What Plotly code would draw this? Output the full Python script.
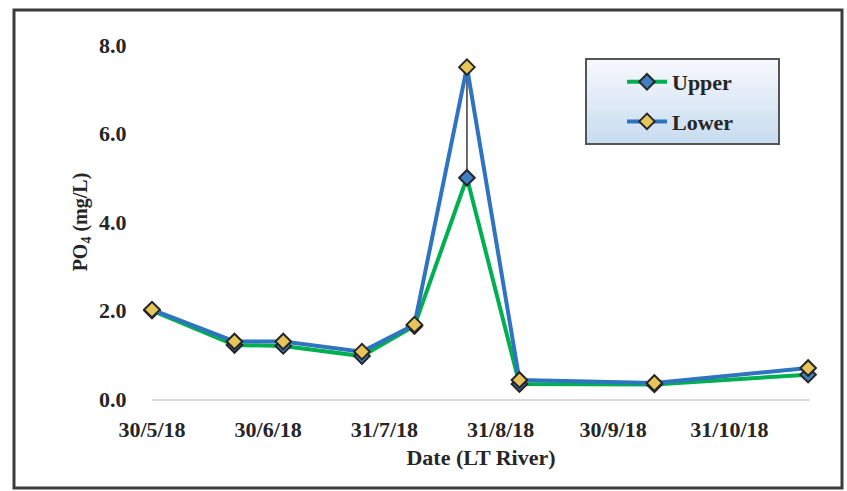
import plotly.graph_objects as go

# Sampling dates and PO4 concentrations (mg/L) for the LT River
dates = ["2018-05-30", "2018-06-21", "2018-07-04", "2018-07-25", "2018-08-08",
         "2018-08-22", "2018-09-05", "2018-10-11", "2018-11-21"]
upper = [2.00, 1.22, 1.20, 0.97, 1.65, 5.00, 0.34, 0.33, 0.55]
lower = [2.02, 1.30, 1.30, 1.07, 1.68, 7.50, 0.43, 0.36, 0.70]

tick_dates = ["2018-05-30", "2018-06-30", "2018-07-31", "2018-08-31", "2018-09-30", "2018-10-31"]
tick_text = ["30/5/18", "30/6/18", "31/7/18", "31/8/18", "30/9/18", "31/10/18"]
y_ticks = [0, 2, 4, 6, 8]
y_tick_text = ["0.0", "2.0", "4.0", "6.0", "8.0"]

W, H = 847, 491
L, R, T, B = 152, 37, 45, 92
PW, PH = W - L - R, H - T - B

def px(x):
    return (x - L) / PW

def py(y):
    return (H - B - y) / PH

FONT = "Liberation Serif"

fig = go.Figure()

# high-low connectors between the two stations
hx, hy = [], []
for d, u, l in zip(dates, upper, lower):
    hx += [d, d, None]
    hy += [u, l, None]
fig.add_trace(go.Scatter(x=hx, y=hy, mode="lines", line=dict(color="#3a3a3a", width=1.5),
                         showlegend=False, hoverinfo="skip", cliponaxis=False))

fig.add_trace(go.Scatter(
    x=dates, y=upper, name="Upper", mode="lines+markers", legendgroup="u",
    line=dict(color="#00b050", width=4),
    marker=dict(symbol="diamond", size=12, color="#3f7fc4", line=dict(color="#262626", width=2)),
    cliponaxis=False))
fig.add_trace(go.Scatter(
    x=dates, y=lower, name="Lower", mode="lines+markers", legendgroup="l",
    line=dict(color="#2e74c0", width=4),
    marker=dict(symbol="diamond", size=12, color="#e8c55a", line=dict(color="#262626", width=2)),
    cliponaxis=False))

shapes = []
# legend panel with a soft vertical gradient
lx0, lx1, ly0, ly1 = 586, 779, 59, 144
n = 30
for i in range(n):
    t = i / (n - 1)
    r = int(247 + (200 - 247) * t)
    g = int(250 + (220 - 250) * t)
    b = int(253 + (240 - 253) * t)
    ya = ly0 + (ly1 - ly0) * i / n
    yb = ly0 + (ly1 - ly0) * (i + 1) / n
    shapes.append(dict(type="rect", xref="paper", yref="paper", layer="above",
                       x0=px(lx0), x1=px(lx1), y0=py(ya), y1=py(yb + 0.6),
                       fillcolor=f"rgb({r},{g},{b})", line=dict(width=0)))
shapes.append(dict(type="rect", xref="paper", yref="paper", layer="above",
                   x0=px(lx0), x1=px(lx1), y0=py(ly0), y1=py(ly1),
                   line=dict(color="#555555", width=2)))
# outer frame
shapes.append(dict(type="rect", xref="paper", yref="paper", layer="above",
                   x0=px(14), x1=px(842), y0=py(10), y1=py(488),
                   line=dict(color="#3c3c3c", width=3)))

fig.update_layout(
    width=W, height=H,
    margin=dict(l=L, r=R, t=T, b=B),
    paper_bgcolor="white", plot_bgcolor="white",
    font=dict(family=FONT, color="#262626", size=22),
    shapes=shapes,
    showlegend=True,
    legend=dict(
        x=px(622), y=py(61), xanchor="left", yanchor="top",
        bgcolor="rgba(0,0,0,0)", borderwidth=0,
        font=dict(family=FONT, size=22, color="#262626", weight="bold"),
        tracegroupgap=8, itemwidth=40,
    ),
)

fig.update_xaxes(
    type="date", range=["2018-05-30", "2018-11-21 12:00"],
    tickvals=tick_dates, ticktext=tick_text,
    tickfont=dict(family=FONT, size=22, color="#262626", weight="bold"),
    ticks="outside", ticklen=10, tickcolor="rgba(0,0,0,0)",
    showgrid=False, zeroline=False,
    showline=True, linecolor="#d9d9d9", linewidth=2,
    title=dict(text="Date (LT River)", standoff=8,
               font=dict(family=FONT, size=22, color="#262626", weight="bold")),
)
fig.update_yaxes(
    range=[0, 8], tickvals=y_ticks, ticktext=y_tick_text,
    tickfont=dict(family=FONT, size=22, color="#262626", weight="bold"),
    ticks="outside", ticklen=20, tickcolor="rgba(0,0,0,0)",
    showgrid=False, zeroline=False, showline=False,
    title=dict(text="PO<sub>4</sub> (mg/L)", standoff=6,
               font=dict(family=FONT, size=20, color="#262626", weight="bold")),
)

fig.write_html("out.html")
